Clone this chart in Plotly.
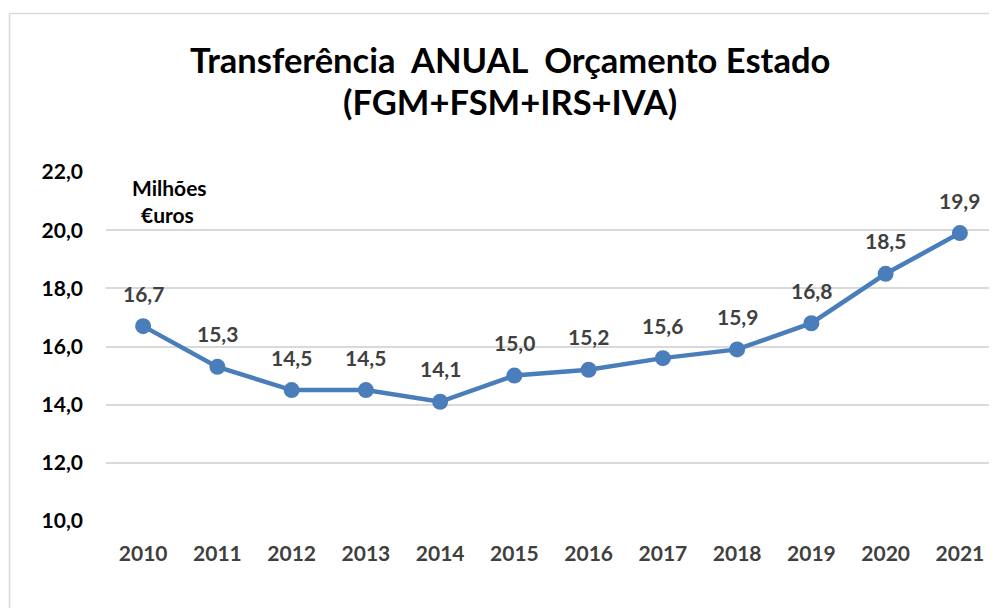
import plotly.graph_objects as go

years = ["2010", "2011", "2012", "2013", "2014", "2015", "2016", "2017", "2018", "2019", "2020", "2021"]
values = [16.7, 15.3, 14.5, 14.5, 14.1, 15.0, 15.2, 15.6, 15.9, 16.8, 18.5, 19.9]
y_ticks = [10, 12, 14, 16, 18, 20, 22]

FONT = "Lato"
BLUE = "#4a7ebb"

# page offset (default body margin of the html page)
OFF = 8
W, H = 997 - OFF, 608 - OFF
# plot area in page pixels: x 106..997, y 172..521
L, R = 106 - OFF, 0
T = 172 - OFF
B = H - (521 - OFF)
pw, ph = W - L - R, H - T - B

def px_x(x):
    return (x - OFF - L) / pw

def px_y(y):
    return (H - B - (y - OFF)) / ph

fig = go.Figure()
fig.add_trace(go.Scatter(
    x=years, y=values, mode="lines+markers",
    line=dict(color=BLUE, width=4.5),
    marker=dict(color=BLUE, size=16),
    hoverinfo="skip", cliponaxis=False,
))

annotations = []
for i, v in enumerate(values):
    annotations.append(dict(
        x=i, y=v, xref="x", yref="y", text=f"{v:.1f}".replace(".", ","),
        showarrow=False, xanchor="center", yanchor="middle", yshift=33,
        font=dict(family=FONT, size=21, color="#404040", weight="bold"),
    ))

annotations += [
    dict(text="Transferência&nbsp; ANUAL&nbsp; Orçamento Estado", x=px_x(510), y=px_y(59),
         xref="paper", yref="paper", showarrow=False, xanchor="center", yanchor="middle",
         font=dict(family=FONT, size=34.5, color="#000000", weight="bold")),
    dict(text="(FGM+FSM+IRS+IVA)", x=px_x(510), y=px_y(102),
         xref="paper", yref="paper", showarrow=False, xanchor="center", yanchor="middle",
         font=dict(family=FONT, size=34.5, color="#000000", weight="bold")),
    dict(text="Milhões", x=px_x(169), y=px_y(187),
         xref="paper", yref="paper", showarrow=False, xanchor="center", yanchor="middle",
         font=dict(family=FONT, size=21, color="#000000", weight="bold")),
    dict(text="€uros", x=px_x(167), y=px_y(214),
         xref="paper", yref="paper", showarrow=False, xanchor="center", yanchor="middle",
         font=dict(family=FONT, size=21, color="#000000", weight="bold")),
]

fig.update_layout(
    width=W, height=H,
    margin=dict(l=L, r=R, t=T, b=B, pad=0),
    paper_bgcolor="white", plot_bgcolor="white",
    separators=", ",
    showlegend=False,
    font=dict(family=FONT),
    xaxis=dict(
        type="category", range=[-0.5, 11.5], showgrid=False, zeroline=False,
        showline=False, ticks="", ticklabelstandoff=18,
        tickfont=dict(family=FONT, size=21, color="#404040", weight="bold"),
        fixedrange=True,
    ),
    yaxis=dict(
        range=[10, 22], tickvals=y_ticks, tickformat=".1f",
        showgrid=True, gridcolor="#d9d9d9", gridwidth=1.5,
        zeroline=False, showline=False, ticks="", ticklabelstandoff=22,
        tickfont=dict(family=FONT, size=21, color="#000000", weight="bold"),
        fixedrange=True,
    ),
    shapes=[dict(
        type="rect", xref="paper", yref="paper",
        x0=px_x(9.5), x1=px_x(1010), y0=px_y(640), y1=px_y(13.5),
        line=dict(color="#d9d9d9", width=1.5), fillcolor="rgba(0,0,0,0)", layer="below",
    )],
    annotations=annotations,
)

fig.write_html("out.html")
